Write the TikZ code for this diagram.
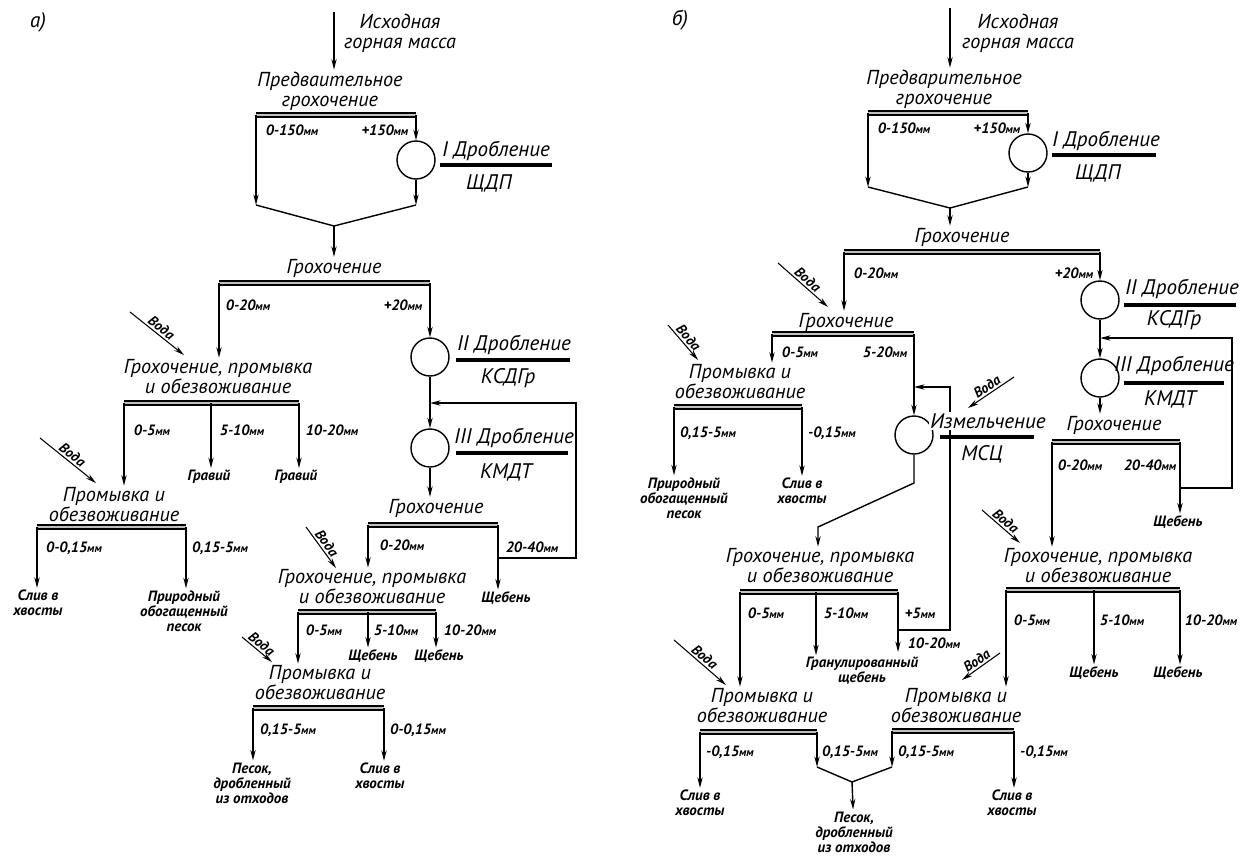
\documentclass[tikz,border=0pt]{standalone}
\usepackage{fontspec}
\setmainfont{PT Sans}
\usepackage{tikz}
\usetikzlibrary{arrows.meta}

\newcommand\bigf{\fontsize{11.5}{11.4}\selectfont\itshape}
\newcommand\smf{\fontsize{8.5}{8.6}\selectfont\itshape\bfseries}
\newcommand\wf{\fontsize{8}{8}\selectfont\itshape\bfseries}
\newcommand\crf{\fontsize{12}{12}\selectfont\itshape}
\newcommand\mmu{{\fontsize{6.5}{7}\selectfont мм}}

\begin{document}
\begin{tikzpicture}[x=0.02cm, y=-0.02cm,
  flow/.style={-{Stealth[length=6pt,width=3pt]}, line width=0.8pt},
  water/.style={-{Stealth[length=6pt,width=3pt]}, line width=0.6pt},
  wlbl/.style={font=\wf, sloped, above, inner sep=1pt},
  sieve/.style={line width=1pt, double=black!25, double distance=1pt},
  mbar/.style={line width=2pt},
  crusher/.style={draw, circle, line width=0.8pt, minimum size=0.76cm, inner sep=0pt},
  big/.style={font=\bigf, align=center, inner sep=1pt},
  sm/.style={font=\smf, inner sep=1pt},
  outtxt/.style={font=\smf, align=center, inner sep=1pt},
  crl/.style={font=\crf, inner sep=1pt},
  back/.style={fill=white, inner sep=1pt}
]
\useasboundingbox (0,0) rectangle (1243,856);

% ---------------- a) ----------------
\node[font=\crf] (aTag) at (38,22) {а)};
\coordinate (a0) at (334,12);
\node[big] (aIn) at (400,33) {Исходная\\горная масса};
\node[big] (aPre) at (330,91) {Предваительное\\грохочение};
\draw[flow] (a0) -- (a0 |- aPre.north);

\coordinate (aS1l) at (256,115); \coordinate (aS1r) at (416,115);
\draw[sieve] (aS1l) -- (aS1r);
\node[sm] (aL1) at (292,130) {0-150\mmu};
\node[sm] (aL2) at (385,130) {+150\mmu};
\node[crusher] (aC1) at (416,160) {};
\node[crl] (aD1) at (496,151) {I Дробление};
\coordinate (aD1a) at (440,165); \coordinate (aD1b) at (552,165);
\draw[mbar] (aD1a) -- (aD1b);
\node[crl] (aM1) at (489,183) {ЩДП};
\coordinate (aV1l) at (256,205); \coordinate (aV1r) at (416,205);
\coordinate (aV1m) at (334,226);
\draw[flow] (aS1l) -- (aV1l);
\draw[flow] (aS1r) -- (aC1);
\draw[flow] (aC1) -- (aV1r);
\draw[line width=0.8pt] (aV1l) -- (aV1m) -- (aV1r);
\node[big] (aG1) at (334,268) {Грохочение};
\draw[flow] (aV1m) -- (aG1);

\coordinate (aS2l) at (219,283); \coordinate (aS2r) at (430,283);
\draw[sieve] (aS2l) -- (aS2r);
\node[sm] (aL3) at (248,305) {0-20\mmu};
\node[sm] (aL4) at (403,305) {+20\mmu};
\node[crusher] (aC2) at (430,357) {};
\node[crl] (aD2) at (514,345) {II Дробление};
\coordinate (aD2a) at (456,360); \coordinate (aD2b) at (570,360);
\draw[mbar] (aD2a) -- (aD2b);
\node[crl] (aM2) at (508,378) {КСДГр};
\draw[flow] (aS2r) -- (aC2);
\node[crusher] (aC3) at (430,448) {};
\node[crl] (aD3) at (514,438) {III Дробление};
\coordinate (aD3a) at (456,453); \coordinate (aD3b) at (568,453);
\draw[mbar] (aD3a) -- (aD3b);
\node[crl] (aM3) at (506,472) {КМДТ};
\draw[flow] (aC2) -- (aC3);
\coordinate (aJ) at (430,403);
\node[big] (aG2) at (436,508) {Грохочение};
\draw[flow] (aC3) -- (aC3 |- aG2.north);

\coordinate (aS3l) at (368,525); \coordinate (aS3r) at (498,525);
\draw[sieve] (aS3l) -- (aS3r);
\node[sm] (aL5) at (402,545) {0-20\mmu};
\node[sm] (aL6) at (532,547) {20-40\mmu};
\node[outtxt] (aSh1) at (506,598) {Щебень};
\draw[flow] (aS3r) -- (aS3r |- aSh1.north);
\coordinate (aLp1) at (576,403); \coordinate (aLp2) at (576,558);
\coordinate (aLp3) at (498,558);
\draw[flow] (aLp3) -- (aLp2) -- (aLp1) -- (aJ);

% left branch
\node[big] (aGP1) at (218,377) {Грохочение, промывка\\и обезвоживание};
\draw[flow] (aS2l) -- (aS2l |- aGP1.north);
\coordinate (aW1s) at (130,312); \coordinate (aW1e) at (184,355);
\draw[water] (aW1s) -- node[wlbl] (aW1t) {Вода} (aW1e);
\coordinate (aS4l) at (124,403); \coordinate (aS4m) at (211,403);
\coordinate (aS4r) at (299,403);
\draw[sieve] (aS4l) -- (aS4r);
\node[sm] (aL7) at (152,430) {0-5\mmu};
\node[sm] (aL8) at (242,430) {5-10\mmu};
\node[sm] (aL9) at (332,430) {10-20\mmu};
\node[outtxt] (aGr1) at (209,477) {Гравий};
\node[outtxt] (aGr2) at (296,477) {Гравий};
\draw[flow] (aS4m) -- (aS4m |- aGr1.north);
\draw[flow] (aS4r) -- (aS4r |- aGr2.north);
\node[big] (aPr1) at (114,505) {Промывка и\\обезвоживание};
\draw[flow] (aS4l) -- (aS4l |- aPr1.north);
\coordinate (aW2s) at (40,438); \coordinate (aW2e) at (96,483);
\draw[water] (aW2s) -- node[wlbl] (aW2t) {Вода} (aW2e);
\coordinate (aS5l) at (37,527); \coordinate (aS5r) at (186,527);
\draw[sieve, line width=1.4pt] (aS5l) -- (aS5r);
\node[sm] (aL10) at (74,548) {0-0,15\mmu};
\node[sm] (aL11) at (220,548) {0,15-5\mmu};
\node[outtxt] (aSl1) at (38,603) {Слив в\\хвосты};
\node[outtxt] (aPe1) at (184,611) {Природный\\обогащенный\\песок};
\draw[flow] (aS5l) -- (aS5l |- aSl1.north);
\draw[flow] (aS5r) -- (aS5r |- aPe1.north);

% lower middle
\node[big] (aGP2) at (372,587) {Грохочение, промывка\\и обезвоживание};
\draw[flow] (aS3l) -- (aS3l |- aGP2.north);
\coordinate (aW3s) at (306,527); \coordinate (aW3e) at (336,568);
\draw[water] (aW3s) -- node[wlbl] (aW3t) {Вода} (aW3e);
\coordinate (aS6l) at (298,612); \coordinate (aS6m) at (368,612);
\coordinate (aS6r) at (436,612);
\draw[sieve] (aS6l) -- (aS6r);
\node[sm] (aL12) at (324,630) {0-5\mmu};
\node[sm] (aL13) at (396,630) {5-10\mmu};
\node[sm] (aL14) at (470,630) {10-20\mmu};
\node[outtxt] (aSh2) at (373,656) {Щебень};
\node[outtxt] (aSh3) at (439,656) {Щебень};
\draw[flow] (aS6m) -- (aS6m |- aSh2.north);
\draw[flow] (aS6r) -- (aS6r |- aSh3.north);
\node[big] (aPr2) at (320,683) {Промывка и\\обезвоживание};
\draw[flow] (aS6l) -- (aS6l |- aPr2.north);
\coordinate (aW4s) at (242,637); \coordinate (aW4e) at (272,662);
\draw[water] (aW4s) -- node[wlbl] (aW4t) {Вода} (aW4e);
\coordinate (aS7l) at (253,708); \coordinate (aS7r) at (384,708);
\draw[sieve] (aS7l) -- (aS7r);
\node[sm] (aL15) at (288,730) {0,15-5\mmu};
\node[sm] (aL16) at (418,730) {0-0,15\mmu};
\node[outtxt] (aPe2) at (252,783) {Песок,\\дробленный\\из отходов};
\node[outtxt] (aSl2) at (380,776) {Слив в\\хвосты};
\draw[flow] (aS7l) -- (aS7l |- aPe2.north);
\draw[flow] (aS7r) -- (aS7r |- aSl2.north);

% ---------------- б) ----------------
\node[font=\crf] (bTag) at (680,20) {б)};
\coordinate (b0) at (950,8);
\node[big] (bIn) at (1018,33) {Исходная\\горная масса};
\node[big] (bPre) at (944,89) {Предварительное\\грохочение};
\draw[flow] (b0) -- (b0 |- bPre.north);

\coordinate (bS1l) at (868,113); \coordinate (bS1r) at (1028,113);
\draw[sieve] (bS1l) -- (bS1r);
\node[sm] (bL1) at (904,128) {0-150\mmu};
\node[sm] (bL2) at (997,128) {+150\mmu};
\node[crusher] (bC1) at (1028,153) {};
\node[crl] (bD1) at (1106,141) {I Дробление};
\coordinate (bD1a) at (1052,155); \coordinate (bD1b) at (1156,155);
\draw[mbar] (bD1a) -- (bD1b);
\node[crl] (bM1) at (1098,173) {ЩДП};
\coordinate (bV1l) at (868,187); \coordinate (bV1r) at (1028,187);
\coordinate (bV1m) at (950,208);
\draw[flow] (bS1l) -- (bV1l);
\draw[flow] (bS1r) -- (bC1);
\draw[flow] (bC1) -- (bV1r);
\draw[line width=0.8pt] (bV1l) -- (bV1m) -- (bV1r);
\node[big] (bG1) at (962,237) {Грохочение};
\draw[flow] (bV1m) -- (bV1m |- bG1.north);

\coordinate (bS2l) at (844,252); \coordinate (bS2r) at (1100,252);
\draw[sieve] (bS2l) -- (bS2r);
\node[sm] (bL3) at (876,273) {0-20\mmu};
\node[sm] (bL4) at (1074,273) {+20\mmu};
\node[crusher] (bC2) at (1100,300) {};
\node[crl] (bD2) at (1182,289) {II Дробление};
\coordinate (bD2a) at (1124,305); \coordinate (bD2b) at (1236,305);
\draw[mbar] (bD2a) -- (bD2b);
\node[crl] (bM2) at (1174,320) {КСДГр};
\draw[flow] (bS2r) -- (bC2);
\node[crusher] (bC3) at (1100,378) {};
\node[crl] (bD3) at (1174,366) {III Дробление};
\coordinate (bD3a) at (1124,383); \coordinate (bD3b) at (1224,383);
\draw[mbar] (bD3a) -- (bD3b);
\node[crl] (bM3) at (1170,399) {КМДТ};
\draw[flow] (bC2) -- (bC3);
\coordinate (bJ) at (1100,338);
\node[big] (bG3) at (1114,425) {Грохочение};
\draw[flow] (bC3) -- (bC3 |- bG3.north);
\coordinate (bS3l) at (1052,442); \coordinate (bS3r) at (1180,442);
\draw[sieve] (bS3l) -- (bS3r);
\node[sm] (bL5) at (1080,465) {0-20\mmu};
\node[sm] (bL6) at (1150,465) {20-40\mmu};
\node[outtxt] (bSh1) at (1178,522) {Щебень};
\draw[flow] (bS3r) -- (bS3r |- bSh1.north);
\coordinate (bLp1) at (1232,338); \coordinate (bLp2) at (1232,488);
\coordinate (bLp3) at (1180,488);
\draw[flow] (bLp3) -- (bLp2) -- (bLp1) -- (bJ);

% left part
\coordinate (bW1s) at (778,263); \coordinate (bW1e) at (828,307);
\draw[water] (bW1s) -- node[wlbl] (bW1t) {Вода} (bW1e);
\node[big] (bG2) at (846,322) {Грохочение};
\draw[flow] (bS2l) -- (bS2l |- bG2.north);
\coordinate (bS4l) at (772,334); \coordinate (bS4r) at (914,334);
\draw[sieve] (bS4l) -- (bS4r);
\node[sm] (bL7) at (800,352) {0-5\mmu};
\node[sm] (bL8) at (885,352) {5-20\mmu};
\node[big] (bPr1) at (740,382) {Промывка и\\обезвоживание};
\draw[flow] (bS4l) -- (bS4l |- bPr1.north);
\coordinate (bW6s) at (668,325); \coordinate (bW6e) at (698,360);
\draw[water] (bW6s) -- node[wlbl] (bW6t) {Вода} (bW6e);
\coordinate (bS9l) at (674,407); \coordinate (bS9r) at (802,407);
\draw[sieve] (bS9l) -- (bS9r);
\node[sm] (bL9) at (708,433) {0,15-5\mmu};
\node[sm] (bL10) at (832,433) {-0,15\mmu};
\node[outtxt] (bPe1) at (684,498) {Природный\\обогащенный\\песок};
\node[outtxt] (bSl0) at (802,491) {Слив в\\хвосты};
\draw[flow] (bS9l) -- (bS9l |- bPe1.north);
\draw[flow] (bS9r) -- (bS9r |- bSl0.north);

% grinding loop
\node[crusher] (bC4) at (914,435) {};
\coordinate (bJ2) at (914,387);
\draw[flow] (bS4r) -- (bC4);
\coordinate (bR1) at (898,630); \coordinate (bR2) at (950,630);
\coordinate (bR3) at (950,387);
\draw[flow] (bR1) -- (bR2) -- (bR3) -- (bJ2);
\node[crl, back] (bD4) at (988,421) {Измельчение};
\coordinate (bD4a) at (940,437); \coordinate (bD4b) at (1034,437);
\draw[mbar] (bD4a) -- (bD4b);
\node[crl] (bM4) at (982,454) {МСЦ};
\coordinate (bW2s) at (1014,377); \coordinate (bW2e) at (968,408);
\draw[water] (bW2s) -- node[wlbl] (bW2t) {Вода} (bW2e);
\coordinate (bK1) at (914,483); \coordinate (bK2) at (818,527);
\node[big] (bGP1) at (820,566) {Грохочение, промывка\\и обезвоживание};
\draw[flow] (bC4) -- (bK1) -- (bK2) -- (bK2 |- bGP1.north);

\coordinate (bS5l) at (740,592); \coordinate (bS5m) at (816,592);
\coordinate (bS5r) at (898,592); \coordinate (bS5e) at (898,652);
\draw[sieve] (bS5l) -- (bS5r);
\node[sm] (bL11) at (766,613) {0-5\mmu};
\node[sm] (bL12) at (846,613) {5-10\mmu};
\node[sm] (bL13) at (920,613) {+5\mmu};
\node[sm] (bL14) at (934,643) {10-20\mmu};
\draw[flow] (bS5r) -- (bS5e);
\node[outtxt] (bGS) at (862,671) {Гранулированный\\щебень};
\draw[flow] (bS5m) -- (bS5m |- bGS.north);
\node[big] (bPr2) at (762,706) {Промывка и\\обезвоживание};
\draw[flow] (bS5l) -- (bS5l |- bPr2.north);
\coordinate (bW3s) at (674,640); \coordinate (bW3e) at (726,685);
\draw[water] (bW3s) -- node[wlbl] (bW3t) {Вода} (bW3e);
\coordinate (bS6l) at (700,732); \coordinate (bS6r) at (817,732);
\draw[sieve] (bS6l) -- (bS6r);
\node[sm] (bL15) at (730,752) {-0,15\mmu};
\node[sm] (bL16) at (850,752) {0,15-5\mmu};
\node[outtxt] (bSl1) at (700,803) {Слив в\\хвосты};
\draw[flow] (bS6l) -- (bS6l |- bSl1.north);

% right part
\coordinate (bW4s) at (982,510); \coordinate (bW4e) at (1020,543);
\draw[water] (bW4s) -- node[wlbl] (bW4t) {Вода} (bW4e);
\node[big] (bGP2) at (1098,566) {Грохочение, промывка\\и обезвоживание};
\draw[flow] (bS3l) -- (bS3l |- bGP2.north);
\coordinate (bS7l) at (1006,590); \coordinate (bS7m) at (1094,590);
\coordinate (bS7r) at (1180,590);
\draw[sieve] (bS7l) -- (bS7r);
\node[sm] (bL17) at (1032,620) {0-5\mmu};
\node[sm] (bL18) at (1122,620) {5-10\mmu};
\node[sm] (bL19) at (1211,620) {10-20\mmu};
\node[outtxt] (bSh2) at (1094,673) {Щебень};
\node[outtxt] (bSh3) at (1178,673) {Щебень};
\draw[flow] (bS7m) -- (bS7m |- bSh2.north);
\draw[flow] (bS7r) -- (bS7r |- bSh3.north);
\node[big] (bPr3) at (956,706) {Промывка и\\обезвоживание};
\draw[flow] (bS7l) -- (bS7l |- bPr3.north);
\coordinate (bW5s) at (1000,653); \coordinate (bW5e) at (962,680);
\draw[water] (bW5s) -- node[wlbl] (bW5t) {Вода} (bW5e);
\coordinate (bS8l) at (892,731); \coordinate (bS8r) at (1014,731);
\draw[sieve] (bS8l) -- (bS8r);
\node[sm] (bL20) at (926,752) {0,15-5\mmu};
\node[sm] (bL21) at (1044,752) {-0,15\mmu};
\node[outtxt] (bSl2) at (1012,803) {Слив в\\хвосты};
\draw[flow] (bS8r) -- (bS8r |- bSl2.north);

% sand from both washers
\coordinate (bV2l) at (817,767); \coordinate (bV2r) at (892,767);
\coordinate (bV2m) at (852,782);
\draw[flow] (bS6r) -- (bV2l);
\draw[flow] (bS8l) -- (bV2r);
\draw[line width=0.8pt] (bV2l) -- (bV2m) -- (bV2r);
\node[outtxt] (bPe2) at (854,832) {Песок,\\дробленный\\из отходов};
\draw[flow] (bV2m) -- (bPe2);
\end{tikzpicture}
\end{document}
